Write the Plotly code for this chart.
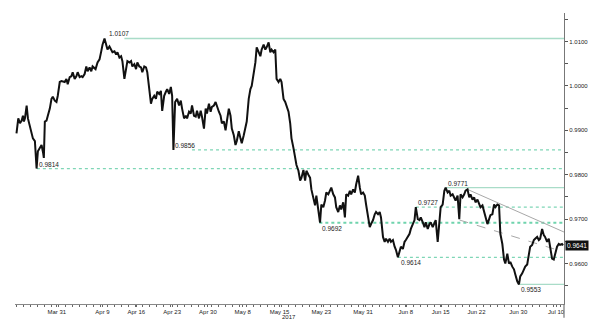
import plotly.graph_objects as go

# ---- price series (bar index, price) ----
t = [16.5, 17.5, 18.3, 20, 21.7, 23, 24, 25, 26.7, 28, 30.7, 33, 35, 36.7, 38, 40, 41.7, 43.3, 44,
     45, 46.7, 48, 50, 51.7, 53, 55, 56.7, 58, 60, 61.7, 65, 66.7, 68, 70, 71.7, 73, 75, 76.7, 78,
     80, 81.7, 83, 85, 86.7, 88, 90, 91.7, 93, 96, 98, 100, 101.7, 103, 105, 106.7, 108, 110, 111.7,
     113, 115, 116.7, 118, 120, 121.7, 123, 125, 126.7, 128, 130, 131.7, 133, 135, 136.7, 138, 140,
     141.7, 143, 145, 146.7, 148, 150, 151.7, 153,
     155, 156.7, 158, 160, 161.7, 163, 165, 166.7, 168, 170, 171.7, 173, 174.3, 176, 178, 180, 181.7,
     183, 185, 186.7, 188, 190, 191.7, 193, 195, 196.7, 198, 200, 201.7, 203, 205, 206.7, 208, 210,
     211.7, 213, 215, 216.7, 218, 220, 221.7, 223, 225, 226.7, 228, 230, 231.7, 233, 235, 236.7, 238,
     240, 241.7, 243, 245, 246.7, 248, 250, 251.7, 253, 255, 256.7, 258, 260, 261.7, 263, 265, 266.7,
     268, 270, 271.7, 273, 275, 276.7, 278, 280, 281.7, 283, 285, 286.7, 288, 290, 291.7, 293, 295,
     296.7, 298, 300, 301.7, 303, 305, 306.7, 308, 310, 311.7, 313, 315, 316.7, 318, 320, 321.7, 323,
     325, 326.7, 328, 330, 331.7, 333, 335, 336.7, 338, 340, 341.7, 343, 345, 346.7, 348, 350, 351.7,
     353, 355, 356.7, 358, 360, 361.7, 363, 365, 366.7, 368, 370, 371.7, 373, 375, 376.7, 378, 380,
     381.7, 383, 385, 386.7, 388, 390, 391.7, 393, 395, 396.7, 398, 400, 401.7, 403, 405, 406.7, 408,
     410, 411.7, 413, 415, 416.7, 418, 420, 421.7, 423, 425, 426.7, 428, 430, 431.7, 433, 435, 436.7,
     438, 440, 441.7, 443, 445, 446.7, 448, 450, 451.7, 453, 455, 456.7, 458, 460, 461.7, 463, 465,
     466.7, 468, 470, 471.7, 473, 475, 476.7, 478, 480, 481.7, 483, 485, 486.7, 488, 490, 491.7, 493,
     495, 496.7, 498, 500, 501.7, 503, 505, 506.7, 508, 510, 511.7, 513, 515, 516.7, 518, 520, 521.7,
     523, 525, 526.7, 528, 530, 531.7, 533, 535, 536.7, 538, 540, 541.7, 543, 545, 546.7, 548, 550,
     551.7, 553, 555, 556.7, 558, 560, 561.7, 563, 565, 566]
price = [0.9893, 0.9920, 0.9927, 0.9916, 0.9922, 0.9933, 0.9920, 0.9927, 0.9956, 0.9927, 0.9904,
         0.9882, 0.9876, 0.9814, 0.9853, 0.9860, 0.9867, 0.9849, 0.9838,
         0.9920, 0.9922, 0.9933, 0.9949, 0.9971, 0.9976, 0.9967, 0.9964, 0.9978, 1.0009, 1.0011,
         1.0009, 1.0016, 1.0004, 1.0020, 1.0022, 1.0031, 1.0016, 1.0022, 1.0031, 1.0020, 1.0022,
         1.0020, 1.0027, 1.0044, 1.0033, 1.0042, 1.0033, 1.0044, 1.0038, 1.0053, 1.0060, 1.0078,
         1.0093, 1.0107, 1.0093, 1.0082, 1.0089, 1.0082, 1.0076, 1.0078, 1.0071, 1.0076, 1.0064,
         1.0067, 1.0056, 1.0016, 1.0044, 1.0056, 1.0053, 1.0056, 1.0044, 1.0049, 1.0038, 1.0053,
         1.0044, 1.0042, 1.0031, 1.0044, 1.0042, 1.0031, 0.9993, 0.9960, 0.9971,
         0.9978, 0.9971, 0.9987, 0.9982, 0.9989, 0.9944, 0.9978, 0.9987, 0.9993, 0.9982, 0.9998,
         0.9978, 0.9856, 0.9964, 0.9971, 0.9956, 0.9967, 0.9949, 0.9927, 0.9933, 0.9927, 0.9942,
         0.9938, 0.9956, 0.9933, 0.9931, 0.9944, 0.9927, 0.9944, 0.9931, 0.9904, 0.9949, 0.9938,
         0.9960, 0.9942, 0.9953, 0.9956, 0.9964, 0.9953, 0.9942, 0.9933, 0.9916, 0.9920, 0.9900,
         0.9920, 0.9949, 0.9933, 0.9904, 0.9889, 0.9867, 0.9876, 0.9898, 0.9882, 0.9871, 0.9889,
         0.9904, 0.9920, 0.9971, 0.9993, 1.0000, 1.0031, 1.0053, 1.0087, 1.0078, 1.0067, 1.0082,
         1.0093, 1.0082, 1.0087, 1.0098, 1.0076, 1.0082, 1.0076, 1.0082, 1.0016, 1.0009, 1.0016,
         1.0009, 0.9971, 0.9964, 0.9956, 0.9942, 0.9916, 0.9882, 0.9860,
         0.9838, 0.9822, 0.9809, 0.9787, 0.9793, 0.9811, 0.9787, 0.9809, 0.9800, 0.9793, 0.9767,
         0.9749, 0.9731, 0.9753, 0.9720, 0.9692, 0.9733, 0.9727, 0.9742, 0.9760, 0.9756, 0.9764,
         0.9771, 0.9756, 0.9749, 0.9727, 0.9716, 0.9731, 0.9722, 0.9738, 0.9704, 0.9756, 0.9753,
         0.9764, 0.9756, 0.9767, 0.9760, 0.9778, 0.9798, 0.9771, 0.9756, 0.9760, 0.9753, 0.9733,
         0.9704, 0.9682, 0.9689, 0.9698, 0.9711, 0.9716, 0.9711, 0.9716, 0.9704, 0.9660, 0.9649,
         0.9656, 0.9649, 0.9656, 0.9649, 0.9653, 0.9638, 0.9631, 0.9614, 0.9627, 0.9638, 0.9633,
         0.9649, 0.9653, 0.9660, 0.9667, 0.9678, 0.9687, 0.9698, 0.9727, 0.9700, 0.9698, 0.9704,
         0.9693, 0.9682, 0.9693, 0.9678, 0.9689, 0.9693, 0.9682, 0.9693, 0.9698, 0.9649, 0.9704,
         0.9727, 0.9733, 0.9764, 0.9771, 0.9760, 0.9764, 0.9753, 0.9756, 0.9749, 0.9742, 0.9753,
         0.9700, 0.9756, 0.9749, 0.9756, 0.9764, 0.9767, 0.9749, 0.9756, 0.9744, 0.9749, 0.9738,
         0.9744, 0.9733, 0.9727, 0.9731, 0.9716, 0.9709, 0.9689, 0.9700, 0.9709, 0.9711, 0.9733,
         0.9727, 0.9733, 0.9731, 0.9667, 0.9644, 0.9609, 0.9600, 0.9622, 0.9600, 0.9604, 0.9593,
         0.9587, 0.9576, 0.9560, 0.9553, 0.9571, 0.9578, 0.9587, 0.9593, 0.9598, 0.9620, 0.9638,
         0.9642, 0.9653, 0.9656, 0.9660, 0.9653, 0.9656, 0.9678, 0.9664, 0.9660, 0.9649, 0.9656,
         0.9633, 0.9611, 0.9609, 0.9622, 0.9638, 0.9644, 0.9642, 0.9644, 0.9641]

# ---- x tick labels (bar index of each label) ----
tick_pos = [57, 103, 137, 173, 209, 244, 281, 323, 365, 408, 443, 479, 521, 559]
tick_text = ["Mar 31", "Apr 9", "Apr 16", "Apr 23", "Apr 30", "May 8", "May 15",
             "May 23", "May 31", "Jun 8", "Jun 15", "Jun 22", "Jun 30", "Jul 10"]

# ---- marked levels ----
level_value = [1.0107, 0.9856, 0.9814, 0.9771, 0.9727, 0.9692, 0.9614, 0.9553]
level_start = [125, 193, 37, 448, 418, 321, 400, 522]
level_label_t = [107, 174, 37, 448, 418, 322, 401, 522]
level_label_above = [True, True, True, True, True, False, False, False]
level_style = ["solid", "dot", "dot", "solid", "dot", "dotbold", "dot", "solid"]

# ---- trend lines (bar, price) ----
trend_solid_t = [470, 567]
trend_solid_p = [0.9767, 0.9671]
trend_dash_t = [462, 557]
trend_dash_p = [0.9698, 0.9633]

last_price = 0.9641
year_label = "2017"

X_MIN, X_MAX = 15, 567
Y_MIN, Y_MAX = 0.95089, 1.01644
FONT = "Liberation Sans"

fig = go.Figure()

# levels
for v, s, sty in zip(level_value, level_start, level_style):
    if sty == "solid":
        line = dict(color="#a9dcc8", width=1.3)
    elif sty == "dotbold":
        line = dict(color="#6fd3ad", width=2, dash="dot")
    else:
        line = dict(color="#7fd6b6", width=1.2, dash="dot")
    fig.add_trace(go.Scatter(x=[s, X_MAX], y=[v, v], mode="lines", line=line,
                             hoverinfo="skip", showlegend=False))

fig.add_trace(go.Scatter(x=trend_solid_t, y=trend_solid_p, mode="lines",
                         line=dict(color="#a8a8a8", width=1), showlegend=False))
fig.add_trace(go.Scatter(x=trend_dash_t, y=trend_dash_p, mode="lines",
                         line=dict(color="#a8a8a8", width=1, dash="dash"), showlegend=False))

fig.add_trace(go.Scatter(x=t, y=price, mode="lines",
                         line=dict(color="#111111", width=2), showlegend=False))

for v, lt, above in zip(level_value, level_label_t, level_label_above):
    fig.add_annotation(x=lt, y=v, text=f"{v:.4f}", showarrow=False,
                       xanchor="left", yanchor="bottom" if above else "top",
                       yshift=-1 if above else 0,
                       font=dict(family=FONT, size=6.5, color="#222"))

fig.add_annotation(xref="paper", x=1, y=last_price, text=f"{last_price:.4f}",
                   showarrow=False, xanchor="left", xshift=1, bgcolor="#111111",
                   borderpad=1, font=dict(family=FONT, size=6.5, color="#ffffff"))

fig.add_annotation(x=tick_pos[6] + 9, yref="paper", y=-0.028, text=year_label,
                   showarrow=False, yanchor="top",
                   font=dict(family=FONT, size=6, color="#222"))

fig.add_shape(type="line", xref="paper", yref="paper", x0=1, x1=1, y0=-0.047, y1=0,
              line=dict(color="#777", width=1.2))

fig.update_layout(
    width=600, height=327,
    margin=dict(l=15, r=33, t=13, b=19),
    paper_bgcolor="white", plot_bgcolor="white",
    font=dict(family=FONT, size=6, color="#222"),
    xaxis=dict(range=[X_MIN, X_MAX], showgrid=False, zeroline=False,
               showline=True, linecolor="#888", linewidth=1,
               tickmode="array", tickvals=tick_pos, ticktext=tick_text,
               ticks="outside", ticklen=2, tickcolor="#666",
               tickfont=dict(family=FONT, size=6, color="#222"),
               minor=dict(dtick=7, tick0=17, ticks="outside", ticklen=2, tickcolor="#666")),
    yaxis=dict(range=[Y_MIN, Y_MAX], side="right", showgrid=False, zeroline=False,
               showline=True, linecolor="#777", linewidth=1.2,
               dtick=0.01, tick0=0.96, tickformat=".4f",
               ticks="outside", ticklen=3, tickcolor="#555",
               tickfont=dict(family=FONT, size=6, color="#222"),
               minor=dict(dtick=0.005, ticks="outside", ticklen=3, tickcolor="#555")),
)

fig.write_html("out.html")
